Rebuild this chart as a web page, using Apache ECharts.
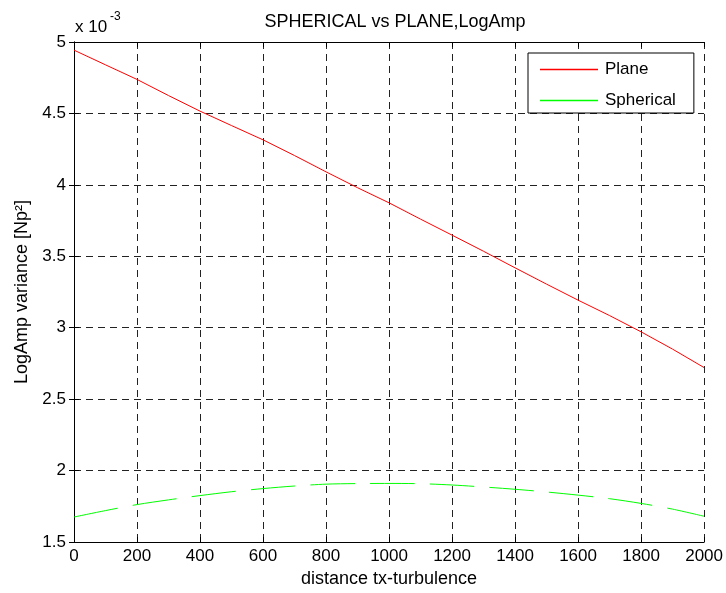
<!DOCTYPE html>
<html>
<head>
<meta charset="utf-8">
<script src="https://cdn.jsdelivr.net/npm/echarts@6/dist/echarts.min.js"></script>
<style>
html, body { margin: 0; padding: 0; background: #fff; }
#chart { width: 726px; height: 593px; }
</style>
</head>
<body>
<div id="chart"></div>
<script>
// distance tx-turbulence
var distance = [0, 100, 200, 300, 400, 500, 600, 700, 800, 900, 1000,
                1100, 1200, 1300, 1400, 1500, 1600, 1700, 1800, 1900, 2000];
// LogAmp variance, in units of 1e-3 Np^2
var plane = [4.943, 4.84, 4.738, 4.625, 4.516, 4.415, 4.315, 4.205, 4.091, 3.98, 3.874,
             3.76, 3.648, 3.535, 3.419, 3.305, 3.193, 3.085, 2.971, 2.85, 2.721];
var spherical = [1.675, 1.72, 1.762, 1.795, 1.825, 1.852, 1.874, 1.892, 1.905, 1.909, 1.91,
                 1.908, 1.899, 1.885, 1.869, 1.85, 1.828, 1.803, 1.77, 1.73, 1.68];

var font = 'Liberation Sans, Arial, sans-serif';

function pairs(xs, ys) {
  var out = [];
  for (var i = 0; i < xs.length; i++) out.push([xs[i], ys[i]]);
  return out;
}

var myChart = echarts.init(document.getElementById('chart'), null, { renderer: 'canvas' });

// shared look of the MATLAB-like axes
var tickIn = { show: true, inside: true, length: 5, lineStyle: { color: '#000', width: 1 } };
var gridDash = { show: true, lineStyle: { color: '#222', width: 1, type: [7, 5] } };

var option = {
  backgroundColor: '#fff',
  animation: false,
  title: {
    text: 'SPHERICAL vs PLANE,LogAmp',
    left: 390,
    textAlign: 'center',
    top: 8,
    textStyle: { fontFamily: font, fontSize: 18, fontWeight: 'normal', color: '#000' }
  },
  legend: {
    orient: 'vertical',
    left: 528,
    top: 53,
    padding: [8, 18, 4, 12],
    itemWidth: 58,
    itemHeight: 1.5,
    itemGap: 14,
    icon: 'rect',
    backgroundColor: '#fff',
    borderColor: '#000',
    borderWidth: 1,
    borderRadius: 0,
    textStyle: { fontFamily: font, fontSize: 17, color: '#000', padding: [0, 0, 0, 2] },
    data: ['Plane', 'Spherical']
  },
  grid: { left: 74, right: 20, top: 42, bottom: 51, show: false },
  xAxis: [
    {
      type: 'value', min: 0, max: 2000, interval: 200,
      name: 'distance tx-turbulence', nameLocation: 'middle', nameGap: 27,
      nameTextStyle: { fontFamily: font, fontSize: 18, color: '#000' },
      axisLine: { show: true, lineStyle: { color: '#000', width: 1 } },
      axisTick: tickIn,
      axisLabel: { fontFamily: font, fontSize: 17, color: '#000', margin: 6,
                   formatter: function (v) { return String(v); } },
      splitLine: gridDash
    },
    {
      type: 'value', min: 0, max: 2000, interval: 200, position: 'top',
      axisLine: { show: true, lineStyle: { color: '#000', width: 1 } },
      axisTick: tickIn, axisLabel: { show: false }, splitLine: { show: false }
    }
  ],
  yAxis: [
    {
      type: 'value', min: 1.5, max: 5, interval: 0.5,
      name: 'LogAmp variance [Np²]', nameLocation: 'middle', nameGap: 42,
      nameTextStyle: { fontFamily: font, fontSize: 18, color: '#000' },
      axisLine: { show: true, lineStyle: { color: '#000', width: 1 } },
      axisTick: tickIn,
      axisLabel: { fontFamily: font, fontSize: 17, color: '#000', margin: 8 },
      splitLine: gridDash
    },
    {
      type: 'value', min: 1.5, max: 5, interval: 0.5, position: 'right',
      axisLine: { show: true, lineStyle: { color: '#000', width: 1 } },
      axisTick: tickIn, axisLabel: { show: false }, splitLine: { show: false }
    }
  ],
  graphic: [
    { type: 'text', left: 75, top: 19, style: { text: 'x 10', font: '17px ' + font, fill: '#000' } },
    { type: 'text', left: 110, top: 11, style: { text: '-3', font: '12px ' + font, fill: '#000' } }
  ],
  series: [
    {
      name: 'Plane', type: 'line', showSymbol: false, symbol: 'none',
      data: pairs(distance, plane),
      itemStyle: { color: '#ff0000' },
      lineStyle: { color: '#ff0000', width: 1 }
    },
    {
      name: 'Spherical', type: 'line', showSymbol: false, symbol: 'none', smooth: 0.3,
      data: pairs(distance, spherical),
      itemStyle: { color: '#00ff00' },
      lineStyle: { color: '#00ff00', width: 1, type: [44.5, 15.2] }
    }
  ]
};
myChart.setOption(option);
</script>
</body>
</html>
